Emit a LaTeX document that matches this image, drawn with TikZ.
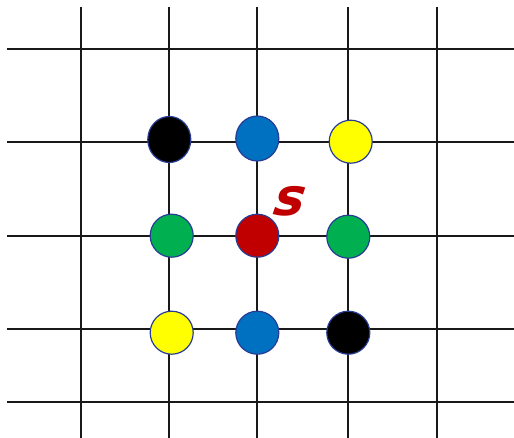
\documentclass[tikz,border=0pt]{standalone}
\usepackage{fontspec}
\usetikzlibrary{shapes.geometric}
\newfontfamily\labelfont{DejaVu Sans}
\definecolor{cblue}{RGB}{0,112,192}
\definecolor{cgreen}{RGB}{0,176,80}
\definecolor{cred}{RGB}{192,0,0}
\definecolor{cyellow}{RGB}{255,255,0}
\definecolor{rimblue}{RGB}{40,60,150}
\begin{document}
\begin{tikzpicture}[x=1pt,y=-1pt,
  gridline/.style={line width=2.1pt,black!90},
  dot/.style={circle,draw=rimblue,line width=1.2pt,minimum size=43pt,inner sep=0pt},
  slabel/.style={text=cred,font=\labelfont\bfseries\itshape\fontsize{52}{52}\selectfont,inner sep=0pt,xslant=0.15}]
\useasboundingbox (0,0) rectangle (514,438);
\foreach \x in {80.7,169.3,257.3,348.3,436.7} \draw[gridline] (\x,7) -- (\x,438);
\foreach \y in {49,142.3,235.7,329.3,401.7} \draw[gridline] (7,\y) -- (514,\y);
\node[dot,fill=black,ellipse,minimum height=46pt,minimum width=43pt] (nw) at (169.3,139.5) {};
\node[dot,fill=cblue,ellipse,minimum height=45pt,minimum width=43pt] (n) at (257.3,138.5) {};
\node[dot,fill=cyellow] (ne) at (350.7,141.7) {};
\node[dot,fill=cgreen] (w) at (171.7,235.7) {};
\node[dot,fill=cred] (c) at (257.3,235.7) {};
\node[dot,fill=cgreen] (e) at (348.3,236.7) {};
\node[dot,fill=cyellow] (sw) at (171.7,332.7) {};
\node[dot,fill=cblue] (s) at (257.3,332.7) {};
\node[dot,fill=black] (se) at (348.3,332.7) {};
\node[slabel] (lbl) at (290,201) {s};
\end{tikzpicture}
\end{document}
